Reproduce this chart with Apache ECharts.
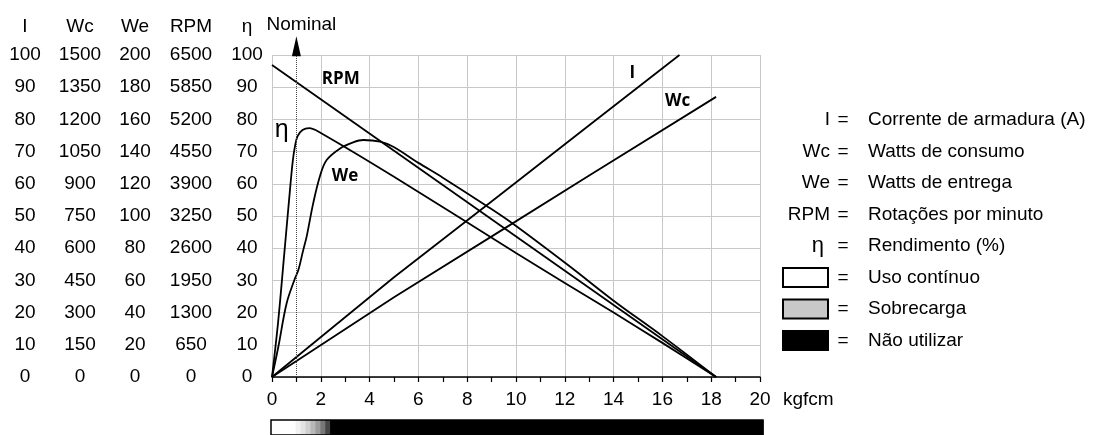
<!DOCTYPE html>
<html><head><meta charset="utf-8">
<script src="https://cdn.jsdelivr.net/npm/echarts@6/dist/echarts.min.js"></script>
<style>html,body{margin:0;padding:0;background:#fff}#c{width:1095px;height:435px}</style>
</head><body><div id="c"></div>
<script>
// ---------------- DATA ----------------
// torque axis (kgfcm)
const torqueMax = 20, torqueStep = 2;
// left-hand scale columns (all start at 0, ten steps)
const columnNames = ['I', 'Wc', 'We', 'RPM', 'η'];
const columnMax = [100, 1500, 200, 6500, 100];

// I – armature current (A)
const iTorque = [0, 5, 9.3, 13, 16.7];
const iAmps = [0, 31, 56.3, 78.2, 100];
// Wc – consumed watts
const wcTorque = [0, 5, 9.5, 13, 18.2];
const wcWatts = [0, 372, 690, 939, 1305];
// We – delivered watts
const weTorque = [0, 0.26, 0.6, 0.94, 1.08, 1.28, 1.42, 1.69, 1.97, 2.24, 2.79, 3.3, 3.74, 4.43, 4.97, 6, 7, 8.8, 9.89, 12.21, 14, 16, 18.2];
const weWatts = [0, 18.8, 45.8, 61.2, 66.4, 78.8, 87.2, 108, 125, 134.8, 142, 145.6, 147.2, 146.2, 143, 133, 123.8, 106.2, 95, 68.6, 47.4, 25.4, 0];
// RPM
const rpmTorque = [0, 18.2];
const rpmValues = [6300, 0];
// η – efficiency (%)
const etaTorque = [0, 0.25, 0.5, 0.7, 0.85, 0.95, 1.05, 1.25, 1.52, 2.0, 5, 10, 12, 14, 16, 18.2];
const etaPct = [0, 17, 38, 55, 67, 72, 74.8, 76.7, 77.3, 75.8, 62.2, 38.5, 29.2, 20, 10.6, 0];

// nominal torque
const nominalTorque = 1.0;
// operating zones along torque (continuous → overload steps → do not use)
const zoneEdges = [0, 1.0, 1.2, 1.4, 1.6, 1.8, 2.0, 2.2, 2.4, 20];

// legend
const legendSymbols = ['I', 'Wc', 'We', 'RPM', 'η'];
const legendTexts = ['Corrente de armadura (A)', 'Watts de consumo', 'Watts de entrega', 'Rotações por minuto', 'Rendimento (%)'];
const zoneLegendTexts = ['Uso contínuo', 'Sobrecarga', 'Não utilizar'];

// ---------------- CHART ----------------
const FONT = '"Liberation Sans", Arial, sans-serif';
const BOLD = '"Open Sans", "Liberation Sans", sans-serif';
const zip = (a, b) => a.map((v, i) => [v, b[i]]);
const plain = v => String(Math.round(v * 1000) / 1000);
const chart = echarts.init(document.getElementById('c'), null, {renderer: 'canvas'});

const gridLeft = 272, gridRight = 335;
const columnCenterPx = [25, 80, 135, 191, 247];

const yAxes = [{
  type: 'value', gridIndex: 0, min: 0, max: 100, interval: 10,
  axisLabel: {show: false}, axisLine: {show: false}, axisTick: {show: false},
  splitLine: {lineStyle: {color: '#c8c8c8', width: 1}}
}];
columnNames.forEach((n, i) => {
  yAxes.push({
    type: 'value', gridIndex: 0, position: 'left', offset: gridLeft - columnCenterPx[i],
    min: 0, max: columnMax[i], interval: columnMax[i] / 10,
    name: n, nameLocation: 'end', nameGap: 19,
    nameTextStyle: {fontFamily: FONT, fontSize: 19, color: '#000', align: 'center'},
    axisLine: {show: false}, axisTick: {show: false}, splitLine: {show: false},
    axisLabel: {margin: 0, align: 'center', fontFamily: FONT, fontSize: 19, color: '#000', formatter: plain}
  });
});
yAxes.push({type: 'value', gridIndex: 1, min: 0, max: 1, show: false});

const zoneColors = ['#ffffff', '#f2f2f2', '#e3e3e3', '#d0d0d0', '#b8b8b8', '#9c9c9c', '#787878', '#474747', '#000000'];
const zones = zoneEdges.slice(0, -1).map((s, i) => [s, zoneEdges[i + 1]]);

const lineBase = {type: 'line', xAxisIndex: 0, showSymbol: false, symbol: 'none', animation: false,
  lineStyle: {color: '#000', width: 1.8}, z: 3};
function tag(name, coord, font) {
  return {symbol: 'circle', symbolSize: 1, itemStyle: {color: 'rgba(0,0,0,0)'},
    label: Object.assign({show: true, position: 'inside', formatter: '{b}', color: '#000'}, font),
    data: [{name: name, coord: coord}]};
}
const boldTag = {fontFamily: BOLD, fontWeight: 'bold', fontSize: 17};

const graphics = [];
const rowY0 = 120, rowStep = 31.5;
legendSymbols.forEach((s, i) => {
  const y = rowY0 + i * rowStep;
  graphics.push({type: 'text', x: s === 'η' ? 824 : 830, y: y, style: {text: s, font: (s === 'η' ? '22px ' : '19px ') + FONT, fill: '#000', align: 'right', verticalAlign: 'middle'}});
  graphics.push({type: 'text', x: 843, y: y, style: {text: '=', font: '19px ' + FONT, fill: '#000', align: 'center', verticalAlign: 'middle'}});
  graphics.push({type: 'text', x: 868, y: y, style: {text: legendTexts[i], font: '19px ' + FONT, fill: '#000', align: 'left', verticalAlign: 'middle'}});
});
const boxFills = ['#ffffff', '#c8c8c8', '#000000'];
zoneLegendTexts.forEach((t, i) => {
  const y = rowY0 + (i + 5) * rowStep;
  graphics.push({type: 'rect', shape: {x: 783, y: y - 9.5, width: 45, height: 19}, style: {fill: boxFills[i], stroke: '#000', lineWidth: 2}});
  graphics.push({type: 'text', x: 843, y: y, style: {text: '=', font: '19px ' + FONT, fill: '#000', align: 'center', verticalAlign: 'middle'}});
  graphics.push({type: 'text', x: 868, y: y, style: {text: t, font: '19px ' + FONT, fill: '#000', align: 'left', verticalAlign: 'middle'}});
});

const option = {
  backgroundColor: '#fff',
  animation: false,
  grid: [
    {left: gridLeft, right: gridRight, top: 55, bottom: 58},
    {left: 271, right: 332, top: 420, height: 18}
  ],
  xAxis: [{
    type: 'value', gridIndex: 0, min: 0, max: torqueMax, interval: torqueStep,
    name: 'kgfcm', nameLocation: 'end', nameGap: 23,
    nameTextStyle: {fontFamily: FONT, fontSize: 19, color: '#000', verticalAlign: 'top', padding: [13, 0, 0, 0]},
    axisLine: {show: true, lineStyle: {color: '#000', width: 1.5}},
    axisTick: {show: true, length: 5, lineStyle: {color: '#000', width: 1.2}},
    minorTick: {show: true, splitNumber: 2, length: 5, lineStyle: {color: '#000', width: 1.2}},
    splitLine: {show: true, lineStyle: {color: '#c8c8c8', width: 1}},
    axisLabel: {margin: 13, fontFamily: FONT, fontSize: 19, color: '#000', formatter: plain}
  }, {
    type: 'value', gridIndex: 1, min: 0, max: torqueMax, show: false
  }],
  yAxis: yAxes,
  graphic: graphics,
  series: [
    Object.assign({}, lineBase, {name: 'I', yAxisIndex: 1, data: zip(iTorque, iAmps),
      markPoint: tag('I', [14.77, 94.3], boldTag)}),
    Object.assign({}, lineBase, {name: 'Wc', yAxisIndex: 2, data: zip(wcTorque, wcWatts),
      markPoint: tag('Wc', [16.62, 1287], boldTag)}),
    Object.assign({}, lineBase, {name: 'We', yAxisIndex: 3, smooth: 0.35, data: zip(weTorque, weWatts),
      markPoint: tag('We', [2.99, 124.8], boldTag)}),
    Object.assign({}, lineBase, {name: 'RPM', yAxisIndex: 4, data: zip(rpmTorque, rpmValues),
      markPoint: tag('RPM', [2.82, 6012], boldTag)}),
    Object.assign({}, lineBase, {name: 'η', yAxisIndex: 5, smooth: 0.35, data: zip(etaTorque, etaPct),
      markPoint: tag('η', [0.4, 76.7], {fontFamily: FONT, fontSize: 25})}),
    {
      name: 'nominal', type: 'scatter', xAxisIndex: 0, yAxisIndex: 0, clip: false, z: 4,
      symbol: 'triangle', symbolSize: [9, 20], itemStyle: {color: '#000', opacity: 1},
      data: [[nominalTorque, 102.7]],
      label: {show: true, position: 'top', distance: 2, offset: [5, 0], formatter: 'Nominal',
        fontFamily: FONT, fontSize: 19, color: '#000', opacity: 1},
      markLine: {silent: true, symbol: ['none', 'none'], label: {show: false},
        lineStyle: {type: 'dotted', color: '#444', width: 1, opacity: 1},
        data: [{xAxis: nominalTorque}]}
    },
    {
      name: 'zones', type: 'custom', xAxisIndex: 1, yAxisIndex: 6, clip: false,
      data: zones,
      renderItem: function (params, api) {
        const s = api.coord([api.value(0), 1]);
        const e = api.coord([api.value(1), 0]);
        return {type: 'rect', shape: {x: s[0], y: s[1], width: e[0] - s[0] + 0.5, height: e[1] - s[1]},
          style: {fill: zoneColors[params.dataIndex]}};
      }
    },
    {
      name: 'zoneOutline', type: 'custom', xAxisIndex: 1, yAxisIndex: 6, clip: false, z: 5,
      data: [[0, torqueMax]],
      renderItem: function (params, api) {
        const s = api.coord([api.value(0), 1]);
        const e = api.coord([api.value(1), 0]);
        return {type: 'rect', shape: {x: s[0], y: s[1], width: e[0] - s[0], height: e[1] - s[1]},
          style: {fill: 'none', stroke: '#000', lineWidth: 1.5}};
      }
    }
  ]
};
chart.setOption(option);
</script>
</body></html>
